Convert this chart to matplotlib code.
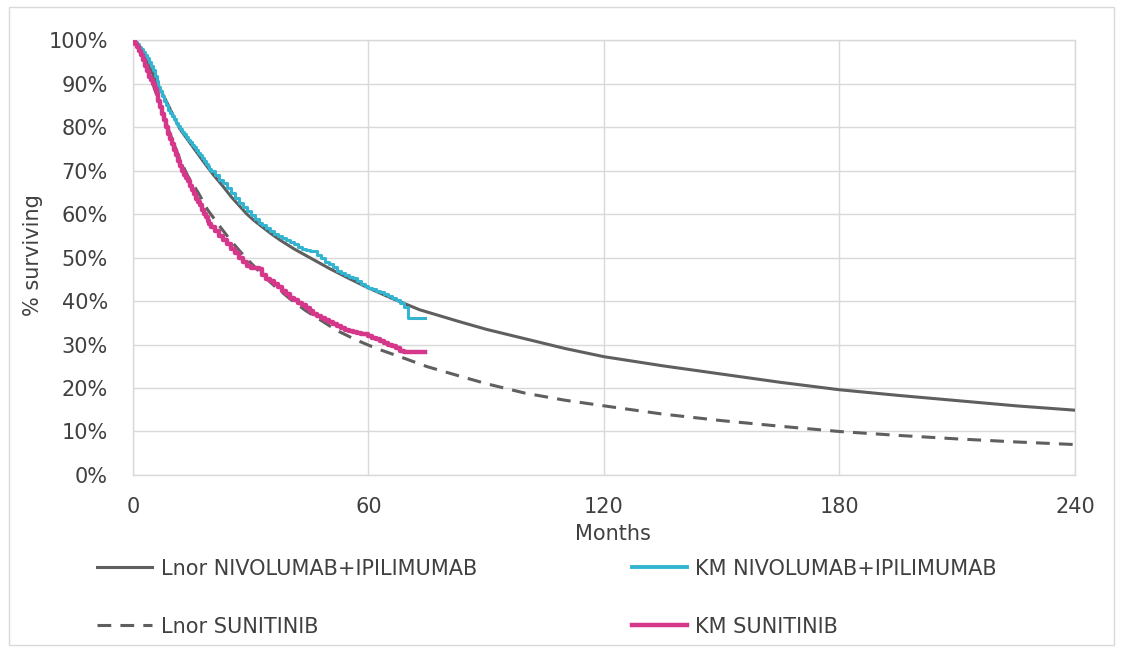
import matplotlib
matplotlib.use("Agg")
import matplotlib.pyplot as plt
from matplotlib.lines import Line2D
from matplotlib.patches import Rectangle

# ---- data ----
lnor_nivo_t = [0, 1.5, 3, 4.5, 6, 7.5, 9, 10.5, 12, 14, 16, 18, 20.5, 23, 25, 27, 29, 31, 33, 35, 37.5,
               41, 45, 50, 55, 60, 66, 73, 83, 90, 100, 110, 120, 135, 150, 165, 180, 195, 210, 225, 240]
lnor_nivo_s = [100, 98.5, 96, 93.2, 90.5, 87.7, 85, 82.2, 79.5, 77, 74.5, 72, 69, 66.3, 64, 62, 60, 58.4, 57, 55.6, 54,
               52, 50, 47.5, 45.2, 43, 40.6, 38, 35.3, 33.5, 31.3, 29.1, 27.2, 25.1, 23.2, 21.3, 19.6, 18.3, 17.1, 15.9, 14.9]

lnor_sun_t = [0, 1.5, 3, 4.5, 6, 7.5, 9, 10.5, 12, 14, 16.7, 19, 22, 25, 27.7, 30, 33, 36, 40, 44, 48, 52, 57,
              62, 68, 75, 83, 90, 100, 110, 120, 135, 150, 165, 180, 195, 210, 225, 240]
lnor_sun_s = [100, 98, 95, 91.5, 87.5, 83.5, 79.5, 76, 72.5, 68.7, 64.8, 61, 57.3, 53.8, 51, 48.8, 46, 43.5, 40.5, 37.8, 35.5, 33.2, 31,
              29.1, 27.2, 24.9, 22.8, 21.0, 18.8, 17.2, 15.9, 14.0, 12.5, 11.2, 10.0, 9.1, 8.3, 7.6, 7.0]

km_nivo_t = [0, 0.5, 1, 1.5, 2, 2.5, 3, 3.5, 4, 4.5, 5, 5.5, 6, 6.5, 7, 7.5, 8, 8.5, 9, 9.5, 10, 10.5, 11, 11.5,
             12, 12.5, 13, 13.5, 14, 14.5, 15, 15.5, 16, 16.5, 17, 17.5, 18, 18.5, 19, 19.5, 20,
             21, 22, 23, 24, 25, 26, 27, 28, 29, 30, 31, 32, 33, 34, 35, 36, 37, 38, 39, 40,
             41, 42, 43, 44, 45, 46, 47, 48, 49, 50, 51, 52, 53, 54, 55, 56, 57, 58, 59, 60,
             61, 62, 63, 64, 65, 66, 67, 68, 69, 70, 74.5]
km_nivo_s = [100, 99.5, 99, 98.5, 98, 97.3, 96.5, 95.8, 95, 94, 93, 91.8, 90.5, 89.3, 88.2, 87.1, 86, 85, 84, 83.2, 82.5, 81.8, 81, 80.2,
             79.5, 78.9, 78.3, 77.7, 77.1, 76.5, 75.9, 75.3, 74.7, 74.1, 73.5, 72.9, 72.3, 71.6, 71, 70.4, 69.8,
             68.9, 67.9, 67.1, 65.9, 64.9, 63.6, 62.6, 61.6, 60.7, 59.8, 58.8, 58, 57.4, 56.8, 56, 55.5, 55, 54.5, 54, 53.5,
             53, 52.5, 52, 51.8, 51.6, 51.4, 50.5, 49.8, 49, 48.5, 47.8, 47, 46.5, 46, 45.5, 45.2, 44.6, 44, 43.5, 43.1,
             42.8, 42.3, 42, 41.6, 41.2, 40.8, 40.2, 39.5, 38.7, 36.2, 36.2]

km_sun_t = [0, 0.5, 1, 1.5, 2, 2.5, 3, 3.5, 4, 4.5, 5, 5.5, 6, 6.5, 7, 7.5, 8, 8.5, 9, 9.5, 10, 10.5, 11, 11.5,
            12, 12.5, 13, 13.5, 14, 14.5, 15, 15.5, 16, 16.5, 17, 17.5, 18, 18.5, 19, 19.5, 20,
            21, 22, 23, 24, 25, 26, 27, 28, 29, 30, 31, 32, 33, 34, 35, 36, 37, 38, 39, 40,
            41, 42, 43, 44, 45, 46, 47, 48, 49, 50, 51, 52, 53, 54, 55, 56, 57, 58, 59, 60,
            61, 62, 63, 64, 65, 66, 67, 68, 69, 74.5]
km_sun_s = [100, 99.2, 98.5, 97.5, 96.5, 95.3, 94, 92.8, 91.5, 90.8, 90, 88.8, 87.5, 86, 84.5, 83, 81.5, 80, 78.5, 77.2, 76, 74.8, 73.5, 72.2,
            71, 70, 69, 68.2, 67.5, 66.5, 65.5, 64.5, 63.5, 62.8, 62, 61, 60, 59.2, 58.5, 57.8, 57,
            56, 55, 54, 53, 52, 51, 50, 49, 48, 47.7, 47.5, 47.3, 46, 45, 44.5, 43.8, 43.2, 42.2, 41.5, 40.8,
            40.2, 39.5, 39, 38.3, 37.6, 37, 36.5, 36, 35.6, 35.2, 34.7, 34.2, 33.8, 33.4, 33, 32.8, 32.6, 32.5, 32.3, 32,
            31.6, 31.2, 30.8, 30.4, 30, 29.6, 29.2, 28.6, 28.2, 28.2]

x_ticks = [0, 60, 120, 180, 240]
y_ticks = [0, 10, 20, 30, 40, 50, 60, 70, 80, 90, 100]

labels = ["Lnor NIVOLUMAB+IPILIMUMAB", "Lnor SUNITINIB", "KM NIVOLUMAB+IPILIMUMAB", "KM SUNITINIB"]

# ---- style ----
plt.rcParams['font.family'] = ['DejaVu Sans']
FS = 15
grid_c = "#D9D9D9"
text_c = "#404040"
c_lnor = "#5F5F5F"
c_cyan = "#33B5D1"
c_mag = "#D5388B"
dash = (0, (4.5, 3))

fig = plt.figure(figsize=(11.22, 6.53), dpi=100)
fig.patches.append(Rectangle((0.008, 0.012), 0.985, 0.978, transform=fig.transFigure,
                             fill=False, edgecolor="#D9D9D9", linewidth=1))
ax = fig.add_axes([0.1185, 0.2726, 0.8395, 0.6661])

ax.plot(lnor_nivo_t, lnor_nivo_s, color=c_lnor, lw=2.2, zorder=3)
ax.plot(lnor_sun_t, lnor_sun_s, color=c_lnor, lw=2.2, ls=dash, zorder=3)
ax.plot(km_nivo_t, km_nivo_s, color=c_cyan, lw=2.2, drawstyle='steps-post', zorder=4)
ax.plot(km_sun_t, km_sun_s, color=c_mag, lw=3.2, drawstyle='steps-post', zorder=5)

ax.set_xlim(0, 240)
ax.set_ylim(0, 100)
ax.set_xticks(x_ticks)
ax.set_yticks(y_ticks)
ax.set_yticklabels([f"{v}%" for v in y_ticks])
ax.tick_params(length=0, labelsize=FS, colors=text_c)
ax.tick_params(axis='y', pad=18)
ax.tick_params(axis='x', pad=16)
ax.grid(True, color=grid_c, lw=1)
ax.set_axisbelow(True)
for s in ax.spines.values():
    s.set_color(grid_c)
    s.set_linewidth(1)

ax.set_xlabel("Months", fontsize=FS, color=text_c)
ax.xaxis.set_label_coords(0.51, -0.113)
ax.set_ylabel("% surviving", fontsize=FS, color=text_c)
ax.yaxis.set_label_coords(-0.0955, 0.505)

h1 = [Line2D([], [], color=c_lnor, lw=2.2),
      Line2D([], [], color=c_lnor, lw=2.2, ls=dash)]
h2 = [Line2D([], [], color=c_cyan, lw=2.8),
      Line2D([], [], color=c_mag, lw=3.2)]
kw = dict(frameon=False, fontsize=FS, handlelength=2.65, handletextpad=0.4,
          labelspacing=1.82, labelcolor=text_c, loc="upper left")
fig.legend(h1, labels[:2], bbox_to_anchor=(0.0698, 0.173), **kw)
fig.legend(h2, labels[2:], bbox_to_anchor=(0.5465, 0.173), **kw)

fig.savefig("out.png", dpi=100)
